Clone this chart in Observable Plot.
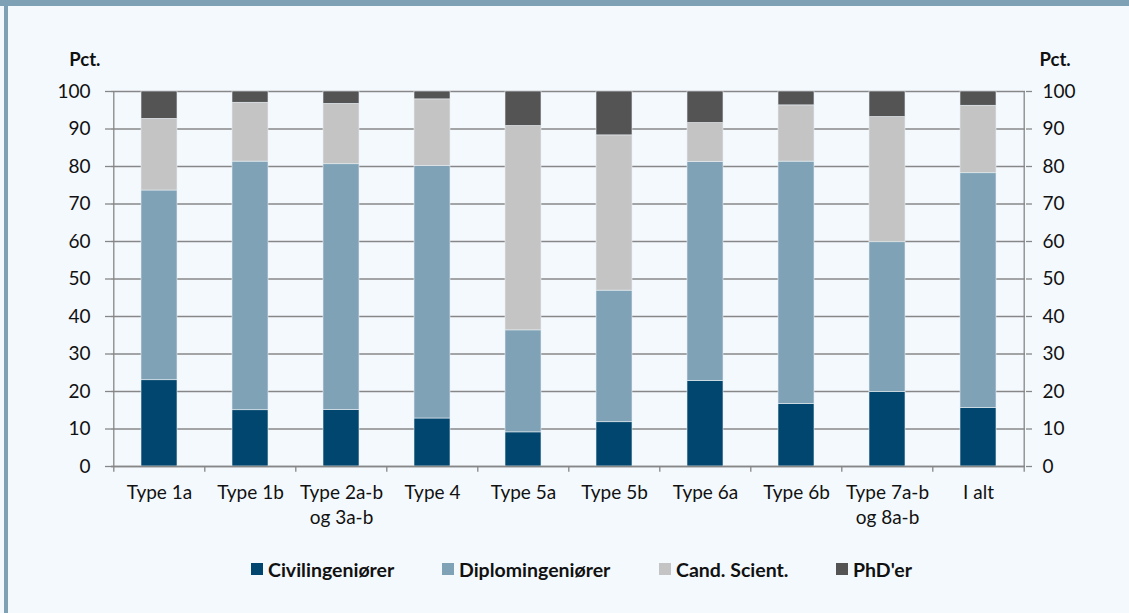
<!DOCTYPE html>
<html>
<head>
<meta charset="utf-8">
<script src="https://cdn.jsdelivr.net/npm/d3@7"></script>
<script src="https://cdn.jsdelivr.net/npm/@observablehq/plot@0.6"></script>
<style>
  html, body { margin: 0; padding: 0; }
  body { width: 1129px; height: 613px; overflow: hidden; background: #f4f9fe; font-family: Lato, "Open Sans", sans-serif; }
  #page { position: relative; width: 1129px; height: 613px; background: #f4f9fe; }
  #band { position: absolute; left: 0; top: 0; width: 1129px; height: 6px; background: #7fa1b6; }
  #stripe { position: absolute; left: 4px; top: 0; width: 4px; height: 613px; background: #7fa1b6; }
  #chart { position: absolute; left: 0; top: 0; }
  #legend { position: absolute; left: 0; top: 557px; width: 1129px; height: 24px; font-weight: bold; font-size: 19.5px; color: #111; }
  .item { position: absolute; top: 0; display: flex; align-items: center; height: 24px; white-space: nowrap; }
  .sw { width: 12px; height: 12px; margin-right: 5px; }
</style>
</head>
<body>
<div id="page">
  <div id="band"></div>
  <div id="stripe"></div>
  <div id="chart"></div>
  <div id="legend"></div>
</div>
<script>
const categories = ["Type 1a", "Type 1b", "Type 2a-b\nog 3a-b", "Type 4", "Type 5a", "Type 5b", "Type 6a", "Type 6b", "Type 7a-b\nog 8a-b", "I alt"];
const seriesNames = ["Civilingeniører", "Diplomingeniører", "Cand. Scient.", "PhD'er"];
const seriesColors = ["#00466e", "#7fa2b7", "#c4c4c4", "#545454"];
const civ  = [23.0, 15.0, 15.1, 12.8,  9.1, 11.8, 22.8, 16.7, 19.9, 15.6];
const dipl = [50.6, 66.3, 65.5, 67.3, 27.2, 35.1, 58.4, 64.6, 39.9, 62.6];
const cand = [19.1, 15.7, 16.1, 17.8, 54.5, 41.4, 10.4, 15.0, 33.4, 18.0];
const phd  = [ 7.3,  3.0,  3.3,  2.1,  9.2, 11.7,  8.4,  3.7,  6.8,  3.8];
const yTicks = [0, 10, 20, 30, 40, 50, 60, 70, 80, 90, 100];

const seriesValues = [civ, dipl, cand, phd];
const data = [];
categories.forEach((c, i) => {
  seriesNames.forEach((s, j) => data.push({category: c, series: s, value: seriesValues[j][i]}));
});

const W = 1129, H = 545, ML = 111, MR = 104, MT = 91, MB = 79;
const step = (W - ML - MR) / categories.length;
const gridColor = "#878787";
const legendX = [251, 442, 659, 836];

const chart = Plot.plot({
  width: W, height: H,
  marginLeft: ML, marginRight: MR, marginTop: MT, marginBottom: MB,
  style: {background: "transparent", fontFamily: "Lato, 'Open Sans', sans-serif", color: "#111"},
  x: {domain: categories, paddingInner: 0.605, paddingOuter: 0.3025, label: null},
  y: {domain: [0, 100], label: null},
  color: {domain: seriesNames, range: seriesColors},
  marks: [
    Plot.gridY(yTicks, {stroke: gridColor, strokeOpacity: 1, strokeWidth: 1.3}),
    Plot.barY(data, {x: "category", y: "value", fill: "series", stroke: "#e8eef3", strokeWidth: 0.6}),
    Plot.ruleX([categories[0]], {dx: -step / 2, y1: 0, y2: 100, stroke: gridColor, strokeWidth: 1.3}),
    Plot.ruleX([categories[categories.length - 1]], {dx: step / 2, y1: 0, y2: 100, stroke: gridColor, strokeWidth: 1.3}),
    Plot.ruleY([0], {stroke: gridColor, strokeWidth: 1.5}),
    Plot.ruleX(categories, {dx: -step / 2, y1: 0, y2: -1.5, stroke: gridColor, strokeWidth: 1.3}),
    Plot.ruleX([categories[categories.length - 1]], {dx: step / 2, y1: 0, y2: -1.5, stroke: gridColor, strokeWidth: 1.3}),
    Plot.axisY(yTicks, {anchor: "left", tickSize: 6, tickPadding: 15, fontSize: 19, stroke: gridColor, strokeWidth: 1.3, fill: "#111", label: null}),
    Plot.axisY(yTicks, {anchor: "right", tickSize: 6, tickPadding: 11, fontSize: 19, stroke: gridColor, strokeWidth: 1.3, fill: "#111", label: null}),
    Plot.axisX({tickSize: 0, tickPadding: 14, fontSize: 19, lineHeight: 1.35, fill: "#111", label: null}),
    Plot.text(["Pct."], {frameAnchor: "top-left", dx: -11, dy: -39, textAnchor: "end", fontWeight: "bold", fontSize: 18.5, fill: "#111"}),
    Plot.text(["Pct."], {frameAnchor: "top-right", dx: 14, dy: -39, textAnchor: "start", fontWeight: "bold", fontSize: 18.5, fill: "#111"})
  ]
});
document.getElementById("chart").appendChild(chart);

const legend = document.getElementById("legend");
seriesNames.forEach((s, i) => {
  const it = document.createElement("div");
  it.className = "item";
  it.style.left = legendX[i] + "px";
  const sw = document.createElement("div");
  sw.className = "sw";
  sw.style.background = seriesColors[i];
  const t = document.createElement("span");
  t.textContent = s;
  it.appendChild(sw); it.appendChild(t);
  legend.appendChild(it);
});
</script>
</body>
</html>
